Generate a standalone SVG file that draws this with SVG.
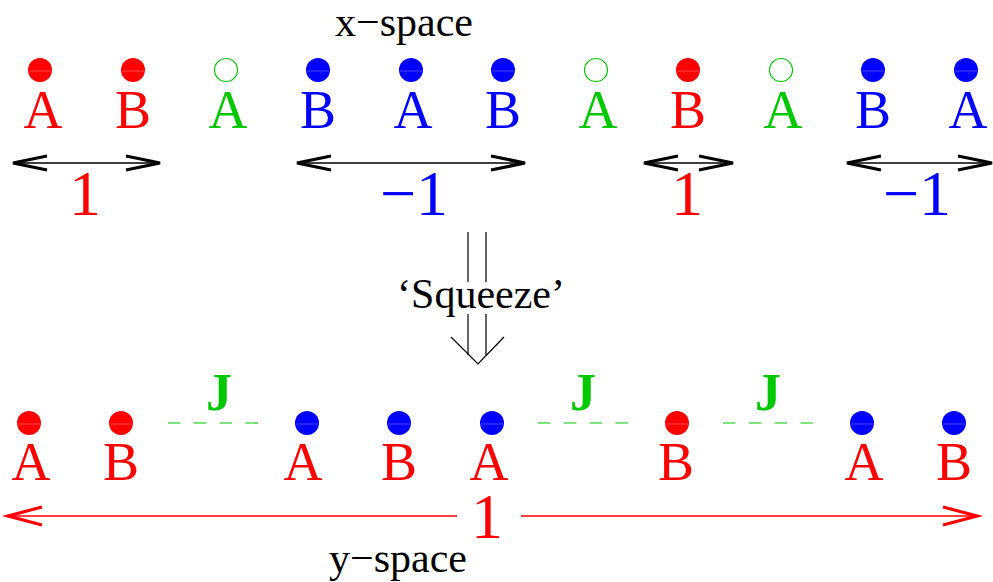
<svg xmlns="http://www.w3.org/2000/svg" width="993" height="582" viewBox="0 0 993 582" font-family="'Liberation Serif', 'Times New Roman', serif">
<style>
text{text-anchor:middle}
.lt{font-size:54px}
.num{font-size:64px}
.lbl{font-size:42px;fill:#000}
.j{font-size:52px;font-weight:bold;fill:#00c800}
.r{fill:#ff0000}.b{fill:#0000ff}.g{fill:#00c800}
.open{fill:none;stroke:#00c800;stroke-width:1.2}
.seam{stroke:#fff;stroke-opacity:0.35;stroke-width:0.8}
.ah{fill:none;stroke:#000;stroke-width:3.2;stroke-linecap:butt;stroke-linejoin:miter}
.ahr{fill:none;stroke:#ff0000;stroke-width:3.2;stroke-linejoin:miter}
.shaft{stroke:#000;stroke-width:1.3}
.shaftr{stroke:#ff0000;stroke-width:1.5}
.dash{stroke:#00c800;stroke-width:1.2;stroke-dasharray:12.5 13.3}
.thin{stroke:#000;stroke-width:1.2;fill:none}
</style>
<text class="lbl" x="404" y="36">x−space</text>
<g id="top-row">
<g id="t1"><circle class="r" cx="40" cy="70" r="12"/><line class="seam" x1="29" y1="71" x2="51" y2="71"/><text class="lt r" x="43" y="128">A</text></g>
<g id="t2"><circle class="r" cx="133" cy="70" r="12"/><line class="seam" x1="122" y1="71" x2="144" y2="71"/><text class="lt r" x="133" y="128">B</text></g>
<g id="t3"><circle class="open" cx="226" cy="70" r="11.5"/><text class="lt g" x="228" y="128">A</text></g>
<g id="t4"><circle class="b" cx="318" cy="70" r="12"/><line class="seam" x1="307" y1="71" x2="329" y2="71"/><text class="lt b" x="318" y="128">B</text></g>
<g id="t5"><circle class="b" cx="411" cy="70" r="12"/><line class="seam" x1="400" y1="71" x2="422" y2="71"/><text class="lt b" x="413" y="128">A</text></g>
<g id="t6"><circle class="b" cx="503" cy="70" r="12"/><line class="seam" x1="492" y1="71" x2="514" y2="71"/><text class="lt b" x="503" y="128">B</text></g>
<g id="t7"><circle class="open" cx="596" cy="70" r="11.5"/><text class="lt g" x="598" y="128">A</text></g>
<g id="t8"><circle class="r" cx="688" cy="70" r="12"/><line class="seam" x1="677" y1="71" x2="699" y2="71"/><text class="lt r" x="688" y="128">B</text></g>
<g id="t9"><circle class="open" cx="781" cy="70" r="11.5"/><text class="lt g" x="783" y="128">A</text></g>
<g id="t10"><circle class="b" cx="873" cy="70" r="12"/><line class="seam" x1="862" y1="71" x2="884" y2="71"/><text class="lt b" x="873" y="128">B</text></g>
<g id="t11"><circle class="b" cx="966" cy="70" r="12"/><line class="seam" x1="955" y1="71" x2="977" y2="71"/><text class="lt b" x="968" y="128">A</text></g>
</g>
<g id="connectors">
<line class="shaft" x1="13" y1="163" x2="159" y2="163"/>
<polyline class="ah" points="47,156 13,163 47,170"/>
<polyline class="ah" points="126,156 160,163 126,170"/>
<line class="shaft" x1="297" y1="163" x2="524" y2="163"/>
<polyline class="ah" points="331,156 297,163 331,170"/>
<polyline class="ah" points="491,156 525,163 491,170"/>
<line class="shaft" x1="644" y1="163" x2="732" y2="163"/>
<polyline class="ah" points="678,156 644,163 678,170"/>
<polyline class="ah" points="699,156 733,163 699,170"/>
<line class="shaft" x1="847" y1="163" x2="991" y2="163"/>
<polyline class="ah" points="881,156 847,163 881,170"/>
<polyline class="ah" points="958,156 992,163 958,170"/>
<line class="thin" x1="468" y1="232" x2="468" y2="282"/>
<line class="thin" x1="486" y1="232" x2="486" y2="282"/>
<line class="thin" x1="468" y1="314" x2="468" y2="355"/>
<line class="thin" x1="486" y1="314" x2="486" y2="355"/>
<polyline class="thin" points="451,337 478,364 504,337"/>
<line class="dash" x1="168" y1="423" x2="258" y2="423"/>
<line class="dash" x1="538" y1="423" x2="628" y2="423"/>
<line class="dash" x1="723" y1="423" x2="813" y2="423"/>
<line class="shaftr" x1="9" y1="516" x2="457" y2="516"/>
<polyline class="ahr" points="42,507 8,516 42,525"/>
<line class="shaftr" x1="521" y1="516" x2="976" y2="516"/>
<polyline class="ahr" points="943,507 977,516 943,525"/>
</g>
<text class="num r" x="85" y="215">1</text>
<text class="num b" x="414" y="215">−1</text>
<text class="num r" x="687" y="215">1</text>
<text class="num b" x="917" y="215">−1</text>
<text class="lbl" x="481" y="308">‘Squeeze’</text>
<text class="j" x="219" y="410">J</text>
<text class="j" x="583" y="410">J</text>
<text class="j" x="768" y="410">J</text>
<g id="bottom-row">
<g id="b1"><circle class="r" cx="29" cy="423" r="12"/><line class="seam" x1="18" y1="424" x2="40" y2="424"/><text class="lt r" x="31" y="480">A</text></g>
<g id="b2"><circle class="r" cx="121" cy="423" r="12"/><line class="seam" x1="110" y1="424" x2="132" y2="424"/><text class="lt r" x="121" y="480">B</text></g>
<g id="b3"><circle class="b" cx="307" cy="423" r="12"/><line class="seam" x1="296" y1="424" x2="318" y2="424"/><text class="lt r" x="303" y="480">A</text></g>
<g id="b4"><circle class="b" cx="399" cy="423" r="12"/><line class="seam" x1="388" y1="424" x2="410" y2="424"/><text class="lt r" x="399" y="480">B</text></g>
<g id="b5"><circle class="b" cx="492" cy="423" r="12"/><line class="seam" x1="481" y1="424" x2="503" y2="424"/><text class="lt r" x="489" y="480">A</text></g>
<g id="b6"><circle class="r" cx="677" cy="423" r="12"/><line class="seam" x1="666" y1="424" x2="688" y2="424"/><text class="lt r" x="676" y="480">B</text></g>
<g id="b7"><circle class="b" cx="862" cy="423" r="12"/><line class="seam" x1="851" y1="424" x2="873" y2="424"/><text class="lt r" x="864" y="480">A</text></g>
<g id="b8"><circle class="b" cx="954" cy="423" r="12"/><line class="seam" x1="943" y1="424" x2="965" y2="424"/><text class="lt r" x="954" y="480">B</text></g>
</g>
<text class="num r" x="487" y="538">1</text>
<text class="lbl" x="398" y="572">y−space</text>
</svg>
